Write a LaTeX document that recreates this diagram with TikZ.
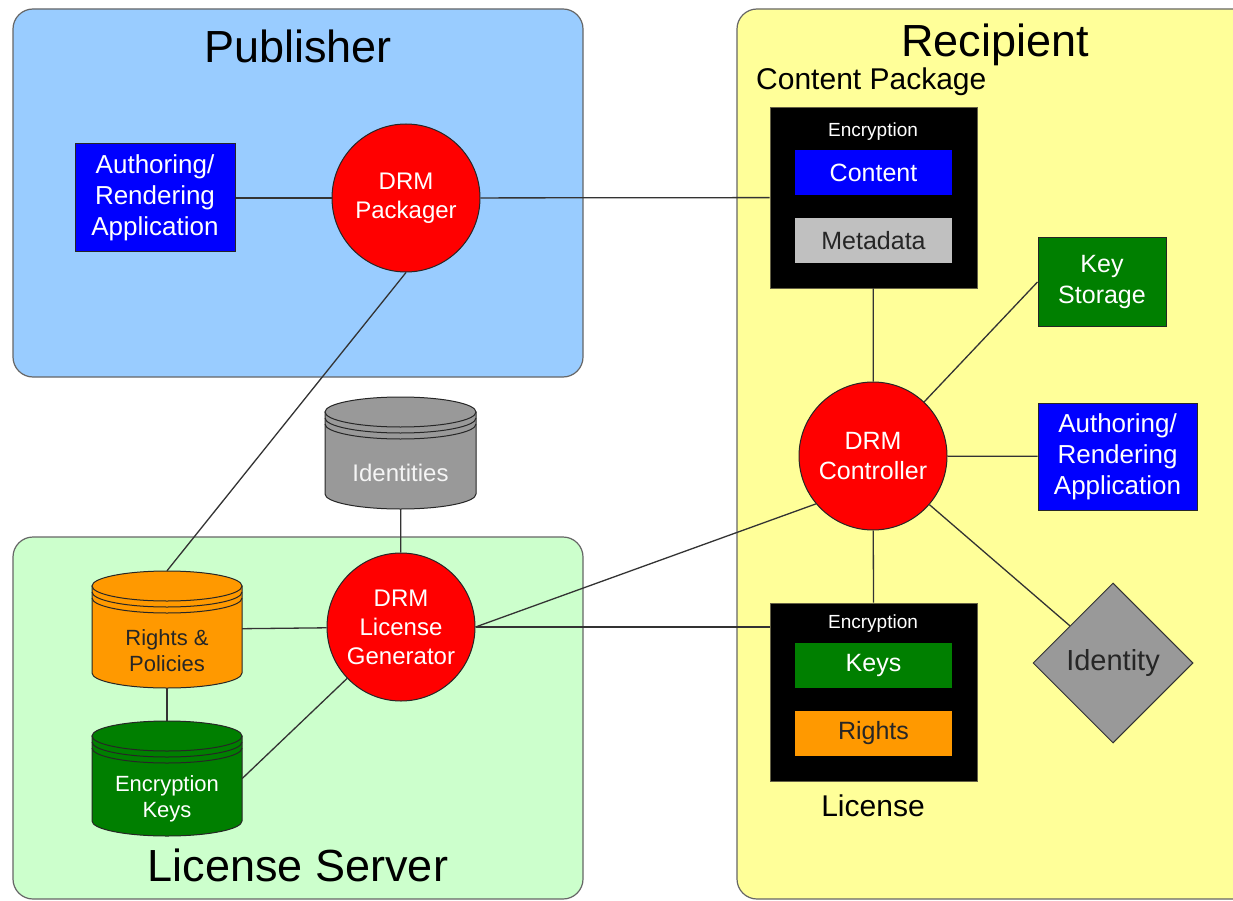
\documentclass[tikz,border=0pt]{standalone}
\usepackage{fontspec}
\setmainfont{Liberation Sans}
\usetikzlibrary{shapes.geometric,calc}
\definecolor{pubfill}{HTML}{99CCFF}
\definecolor{licfill}{HTML}{CCFFCC}
\definecolor{recfill}{HTML}{FFFF99}
\definecolor{drmblue}{HTML}{0000FF}
\definecolor{drmred}{HTML}{FF0000}
\definecolor{drmgreen}{HTML}{007F00}
\definecolor{drmorange}{HTML}{FF9900}
\definecolor{drmgray}{HTML}{999999}
\definecolor{metagray}{HTML}{C0C0C0}
\definecolor{linegray}{HTML}{333333}
\newcommand\drmcyl[9]{%
  \filldraw[fill=#6, draw=black!85, line width=1pt] ({#2-#5},{#3+15}) -- ({#2-#5},{#4-15})
     arc[start angle=180,end angle=0,x radius=#5,y radius=15] -- ({#2+#5},{#3+15}) -- cycle;
  \filldraw[fill=#6, draw=black!85, line width=1pt] ({#2},{#3+15}) ellipse [x radius=#5, y radius=15];
  \draw[black!85, line width=1pt] ({#2-#5},{#3+21}) arc[start angle=180,end angle=0,x radius=#5,y radius=15];
  \draw[black!85, line width=1pt] ({#2-#5},{#3+27}) arc[start angle=180,end angle=0,x radius=#5,y radius=15];
  \node[inner sep=0, minimum width={2*#5}, minimum height={#4-#3}] (#1) at ({#2},{(#3+#4)/2}) {};
  \node[text=#7, font=#9, align=center] at ({#2},{#3+0.68*(#4-#3)}) {#8};
}
\begin{document}
\begin{tikzpicture}[x=1pt,y=-1pt,
  grp/.style={draw=black!60, line width=1.2pt, rounded corners=20pt, inner sep=0},
  title/.style={font=\fontsize{45}{50}\selectfont, text=black},
  lbl/.style={font=\fontsize{30}{34}\selectfont, text=black},
  appbox/.style={draw=black!85, line width=1pt, fill=drmblue, text=white, align=center,
     font=\fontsize{26}{31}\selectfont, inner sep=0},
  drmcirc/.style={circle, draw=black!85, line width=1pt, fill=drmred, text=white, align=center,
     font=\fontsize{24}{29}\selectfont, minimum size=148pt, inner sep=0},
  blackbox/.style={fill=black, draw=black!70!yellow, line width=0.8pt, inner sep=0},
  inner/.style={inner sep=0, minimum width=157pt, minimum height=45pt, font=\fontsize{25}{30}\selectfont},
  enc/.style={text=white, font=\fontsize{19}{22}\selectfont},
  conn/.style={draw=linegray, line width=1.3pt}
]
\useasboundingbox (0,0) rectangle (1233,901);
\clip (0,0) rectangle (1233,901);
\fill[white] (0,0) rectangle (1233,901);

% group boxes
\node[grp, fill=pubfill, minimum width=570pt, minimum height=368pt] (pub) at (298,193) {};
\node[grp, fill=licfill, minimum width=570pt, minimum height=362pt] (lsrv) at (298,718) {};
\node[grp, fill=recfill, minimum width=523pt, minimum height=890pt] (rec) at (998.5,454) {};

\node[title] (pubt) at (298,46) {Publisher};
\node[title] (lsrvt) at (298,865) {License Server};
\node[title] (rect) at (995,45) {Recipient};
\node[lbl, anchor=west, inner sep=0] (cpt) at (756,82) {Content Package};

% publisher
\node[appbox, minimum width=160pt, minimum height=108pt] (pubapp) at (155,198) {Authoring/\\Rendering\\Application};
\node[drmcirc] (pack) at (406,198) {DRM\\Packager};

% recipient
\node[blackbox, minimum width=207pt, minimum height=181pt] (cpkg) at (873.5,197.5) {};
\node[enc] (enc1) at (873,132) {Encryption};
\node[inner, fill=drmblue, text=white] (content) at (873.5,172.5) {Content};
\node[inner, fill=metagray, text=black!85] (meta) at (873.5,240.5) {Metadata};

\node[appbox, fill=drmgreen, minimum width=128pt, minimum height=88pt, font=\fontsize{25}{31}\selectfont] (ks) at (1102,282) {Key\\Storage};
\node[drmcirc, font=\fontsize{25}{30}\selectfont] (ctrl) at (873,456) {DRM\\Controller};
\node[appbox, minimum width=159pt, minimum height=107pt] (recapp) at (1117.5,456.5) {Authoring/\\Rendering\\Application};

\node[blackbox, minimum width=207pt, minimum height=178pt] (lic) at (873.5,692) {};
\node[enc] (enc2) at (873,624) {Encryption};
\node[inner, fill=drmgreen, text=white] (keys) at (873.5,665.5) {Keys};
\node[inner, fill=drmorange, text=black!85] (rights) at (873.5,733.5) {Rights};
\node[lbl] (lict) at (873,806) {License};

\node[diamond, draw=black!80, line width=1pt, fill=drmgray, minimum width=160pt, minimum height=160pt,
      inner sep=0, font=\fontsize{29}{33}\selectfont, text=black!85] (idn) at (1113,663) {Identity};

% license server
\drmcyl{idc}{400.5}{397}{509}{75.5}{drmgray}{white!92!gray}{Identities}{\fontsize{24}{28}\selectfont}
\node[drmcirc] (gen) at (401,627) {DRM\\License\\Generator};
\drmcyl{rp}{167}{571}{688}{75}{drmorange}{black!85}{Rights \&\\Policies}{\fontsize{22}{26}\selectfont}
\drmcyl{ek}{167}{721}{836}{75}{drmgreen}{white}{Encryption\\Keys}{\fontsize{22}{26}\selectfont}

% connectors
\path[conn] (pubapp) -- (pack);
\path[conn] (pack) -- (cpkg);
\path[conn] (pack.south) -- (rp.north);
\path[conn] (idc) -- (gen);
\path[conn] (rp) -- (gen);
\path[conn] (rp) -- (ek);
\path[conn] (ek.east) -- (gen);
\path[conn] (gen) -- (gen -| lic.west);
\path[conn] (gen.east) -- (ctrl.220);
\path[conn] (ctrl) -- (cpkg);
\path[conn] (ctrl) -- (ks.west);
\path[conn] (ctrl) -- (recapp);
\path[conn] (ctrl) -- (lic.north);
\path[conn] (ctrl) -- (idn);
\end{tikzpicture}
\end{document}
